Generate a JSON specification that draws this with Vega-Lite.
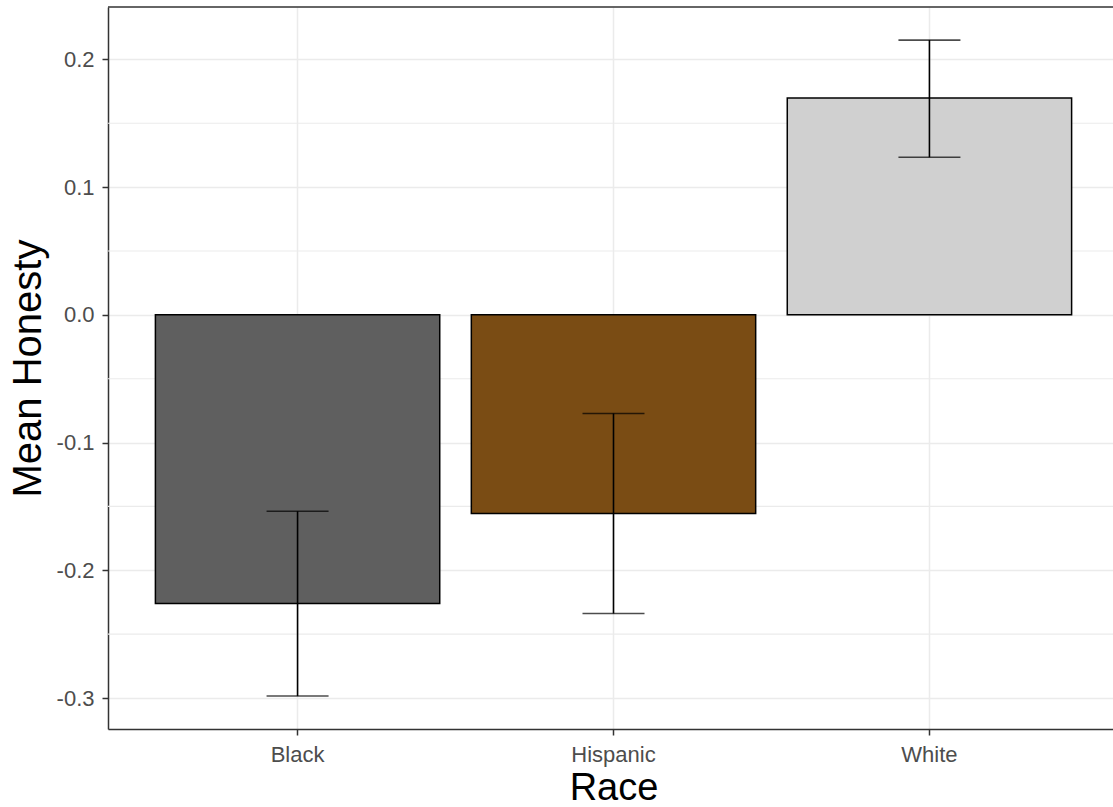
{
  "$schema": "https://vega.github.io/schema/vega-lite/v6.json",
  "width": 1005,
  "height": 722,
  "autosize": {"type": "none"},
  "padding": {"left": 108, "top": 7, "right": 0, "bottom": 78},
  "background": "white",
  "datasets": {
    "bars": [
      {"Race": "Black", "mean": -0.226, "lo": -0.2984, "hi": -0.1537},
      {"Race": "Hispanic", "mean": -0.1555, "lo": -0.2338, "hi": -0.0772},
      {"Race": "White", "mean": 0.1697, "lo": 0.1234, "hi": 0.2151}
    ],
    "minor": [
      {"v": -0.25}, {"v": -0.15}, {"v": -0.05}, {"v": 0.05}, {"v": 0.15}
    ],
    "border": [
      {"top": 0.241}
    ]
  },
  "layer": [
    {
      "data": {"name": "minor"},
      "mark": {"type": "rule", "color": "#ebebeb", "strokeWidth": 1.2},
      "encoding": {
        "y": {"field": "v", "type": "quantitative", "title": "Mean Honesty",
              "scale": {"domain": [-0.3242, 0.241], "nice": false, "zero": false},
              "axis": {"title": "Mean Honesty", "values": [-0.3, -0.2, -0.1, 0, 0.1, 0.2],
                       "labelExpr": "replace(format(datum.value, '.1f'), '\u2212', '-')",
                       "labelPadding": 8, "titlePadding": 8}}
      }
    },
    {
      "data": {"name": "bars"},
      "mark": {"type": "bar", "stroke": "black", "strokeWidth": 1.5},
      "encoding": {
        "x": {"field": "Race", "type": "nominal", "sort": ["Black", "Hispanic", "White"], "title": "Race",
              "scale": {"range": [0, 1011], "paddingInner": 0.1, "paddingOuter": 0.15},
              "axis": {"title": "Race", "labelAngle": 0, "bandPosition": 0.5, "grid": true,
                       "labelPadding": 9, "titlePadding": 4, "titleFontSize": 38}},
        "y": {"field": "mean", "type": "quantitative", "title": "Mean Honesty"},
        "color": {"field": "Race", "type": "nominal", "legend": null,
                  "scale": {"domain": ["Black", "Hispanic", "White"],
                            "range": ["#5f5f5f", "#7a4c14", "#d0d0d0"]}}
      }
    },
    {
      "data": {"name": "bars"},
      "mark": {"type": "rule", "color": "black", "strokeWidth": 1.6},
      "encoding": {
        "x": {"field": "Race", "type": "nominal", "title": "Race"},
        "y": {"field": "lo", "type": "quantitative", "title": "Mean Honesty"},
        "y2": {"field": "hi"}
      }
    },
    {
      "data": {"name": "bars"},
      "mark": {"type": "tick", "color": "black", "size": 62, "thickness": 1.6, "orient": "horizontal"},
      "encoding": {
        "x": {"field": "Race", "type": "nominal", "title": "Race"},
        "y": {"field": "lo", "type": "quantitative", "title": "Mean Honesty"}
      }
    },
    {
      "data": {"name": "bars"},
      "mark": {"type": "tick", "color": "black", "size": 62, "thickness": 1.6, "orient": "horizontal"},
      "encoding": {
        "x": {"field": "Race", "type": "nominal", "title": "Race"},
        "y": {"field": "hi", "type": "quantitative", "title": "Mean Honesty"}
      }
    },
    {
      "data": {"name": "border"},
      "mark": {"type": "rule", "color": "#333333", "strokeWidth": 1.5},
      "encoding": {
        "y": {"field": "top", "type": "quantitative", "title": "Mean Honesty"}
      }
    }
  ],
  "config": {
    "view": {"stroke": null},
    "axis": {
      "domain": true,
      "domainColor": "#333333",
      "domainWidth": 1.5,
      "gridColor": "#ebebeb",
      "gridWidth": 1.5,
      "tickColor": "#333333",
      "tickSize": 6,
      "tickWidth": 1.5,
      "labelColor": "#4d4d4d",
      "labelFont": "Liberation Sans",
      "labelFontSize": 22,
      "titleFont": "Liberation Sans",
      "titleFontSize": 40,
      "titleFontWeight": "normal",
      "titleColor": "black"
    }
  }
}
